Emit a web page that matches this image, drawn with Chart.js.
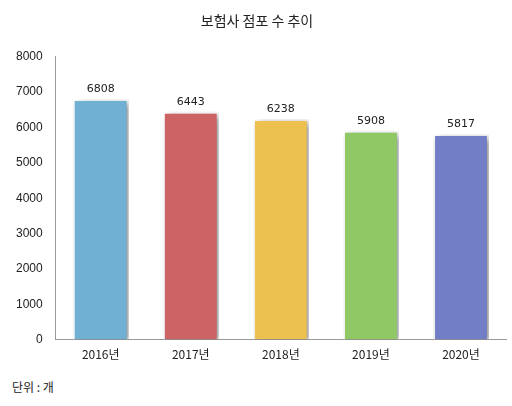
<!DOCTYPE html>
<html><head><meta charset="utf-8">
<script src="https://cdn.jsdelivr.net/npm/chart.js@4"></script>
<style>
body{margin:0;background:#fff;font-family:"Noto Sans CJK KR","Noto Sans",sans-serif;}
#wrap{position:relative;width:512px;height:406px;}
#unit{position:absolute;left:12px;top:378px;font-size:12px;color:#222;}
</style></head><body>
<div id="wrap"><canvas id="c" width="512" height="370"></canvas><div id="unit">단위 : 개</div></div>
<script>
const categories = ["2016년", "2017년", "2018년", "2019년", "2020년"];
const values = [6808, 6443, 6238, 5908, 5817];
const colors = ["#6fb0d3", "#cc6463", "#ecc14f", "#8fc865", "#727fc6"];
const yTicks = [0, 1000, 2000, 3000, 4000, 5000, 6000, 7000, 8000];

const shadowPlugin = {
  id: "shadow",
  beforeDatasetDraw(chart) {
    const ctx = chart.ctx;
    ctx.save();
    ctx.shadowColor = "rgba(0,0,0,0.45)";
    ctx.shadowBlur = 7;
    ctx.shadowOffsetX = 3;
    ctx.shadowOffsetY = 2;
  },
  afterDatasetDraw(chart) {
    chart.ctx.restore();
    const ctx = chart.ctx;
    ctx.save();
    ctx.font = "11px 'DejaVu Sans', sans-serif";
    ctx.fillStyle = "#222";
    ctx.textAlign = "center";
    chart.getDatasetMeta(0).data.forEach((bar, i) => {
      ctx.fillText(values[i], bar.x, bar.y - 7);
    });
    ctx.restore();
  }
};

new Chart(document.getElementById("c"), {
  type: "bar",
  data: {
    labels: categories,
    datasets: [{
      data: values,
      backgroundColor: colors,
      borderColor: "#ffffff",
      borderWidth: 2,
      categoryPercentage: 1,
      barPercentage: 0.62
    }]
  },
  options: {
    responsive: false,
    animation: false,
    layout: { padding: { left: 8, right: 6, top: 0, bottom: 0 } },
    plugins: {
      legend: { display: false },
      tooltip: { enabled: false },
      title: {
        display: true,
        text: "보험사 점포 수 추이",
        color: "#222",
        font: { size: 14, family: "'Noto Sans CJK KR'", weight: "normal" },
        padding: { top: 12, bottom: 28 }
      }
    },
    scales: {
      x: {
        grid: { display: false, drawTicks: false },
        border: { color: "#999" },
        ticks: { color: "#222", font: { size: 12, family: "'Noto Sans CJK KR'" }, padding: 8 }
      },
      y: {
        min: 0, max: 8000,
        afterBuildTicks: (axis) => { axis.ticks = yTicks.map(v => ({ value: v })); },
        grid: { display: false, drawTicks: true, tickLength: 5, tickColor: "#999" },
        border: { color: "#999" },
        ticks: { color: "#222", font: { size: 12 }, padding: 8, callback: (v) => String(v) }
      }
    }
  },
  plugins: [shadowPlugin]
});
</script>
</body></html>
